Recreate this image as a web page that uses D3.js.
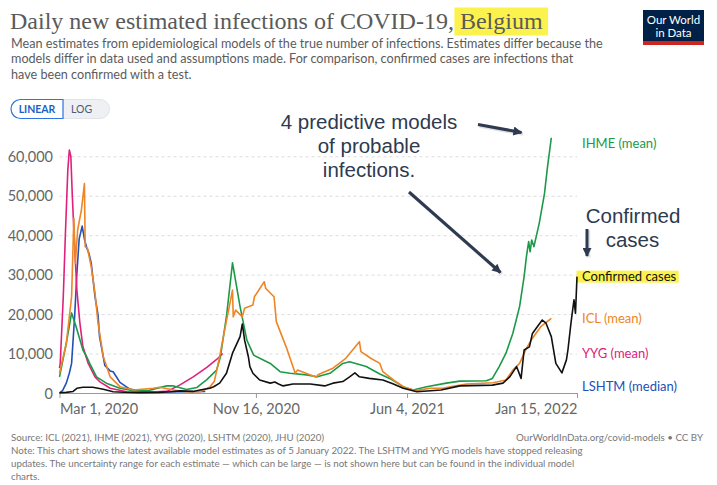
<!DOCTYPE html>
<html><head><meta charset="utf-8">
<script src="https://cdn.jsdelivr.net/npm/d3@7"></script>
<style>
html,body{margin:0;padding:0;background:#fff;}
svg{display:block;font-family:Lato,"Noto Sans",sans-serif;}
</style></head><body>
<svg id="chart" width="717" height="485"></svg>
<script>
// ---------- DATA ----------
const xTickDates = ["2020-03-01","2020-11-16","2021-06-04","2022-01-15"];
const xTickLabels = ["Mar 1, 2020","Nov 16, 2020","Jun 4, 2021","Jan 15, 2022"];
const yTicks = [0,10000,20000,30000,40000,50000,60000];

const seriesNames = ["LSHTM (median)","YYG (mean)","IHME (mean)","ICL (mean)","Confirmed cases"];
const seriesColors = ["#2350b8","#e0217c","#1c9a48","#ee8526","#111111"];

const lshtmDates = ["2020-03-01","2020-03-05","2020-03-10","2020-03-14","2020-03-17","2020-03-21","2020-03-24","2020-03-27","2020-03-31","2020-04-03","2020-04-06","2020-04-09","2020-04-12","2020-04-17","2020-04-21","2020-04-23","2020-04-30","2020-05-07","2020-05-11","2020-05-20","2020-06-02","2020-06-20","2020-07-15","2020-08-15","2020-09-10"];
const lshtmValues = [0,600,2500,5000,7500,19300,30300,39000,42300,39000,36800,35400,32900,24400,19800,14300,7000,5600,5400,2700,1000,400,250,300,400];

const yygDates = ["2020-03-01","2020-03-02","2020-03-06","2020-03-09","2020-03-12","2020-03-14","2020-03-16","2020-03-18","2020-03-21","2020-03-24","2020-03-28","2020-04-01","2020-04-08","2020-04-17","2020-04-23","2020-05-07","2020-05-29","2020-06-28","2020-07-21","2020-08-07","2020-08-25","2020-09-12","2020-09-25","2020-10-03"];
const yygValues = [6300,7600,24400,41300,56500,61600,60000,49800,37100,26100,17700,11700,7500,4100,2900,1200,330,250,400,2000,4100,6500,8500,10000];

const ihmeDates = ["2020-03-01","2020-03-10","2020-03-17","2020-03-23","2020-04-01","2020-04-06","2020-04-10","2020-04-19","2020-05-02","2020-05-20","2020-06-07","2020-06-28","2020-07-21","2020-07-30","2020-08-16","2020-08-30","2020-09-12","2020-09-25","2020-09-30","2020-10-08","2020-10-16","2020-10-26","2020-11-04","2020-11-13","2020-12-05","2020-12-18","2020-12-31","2021-01-22","2021-02-05","2021-02-22","2021-03-11","2021-03-20","2021-04-11","2021-04-29","2021-05-12","2021-05-30","2021-06-12","2021-06-30","2021-07-26","2021-08-13","2021-09-17","2021-09-25","2021-10-04","2021-10-13","2021-10-22","2021-10-31","2021-11-06","2021-11-09","2021-11-12","2021-11-14","2021-11-16","2021-11-19","2021-11-26","2021-12-03","2021-12-07","2021-12-12"];
const ihmeValues = [4100,12600,20300,16800,10900,9200,7500,4100,2500,1200,600,700,1800,1800,900,1400,3400,5800,9200,19400,33000,21900,13400,9600,7500,5400,5000,4600,4100,5000,7500,7900,6700,4800,3700,1600,760,1600,2500,3000,3100,3700,6700,10100,15100,21900,29500,34500,38400,35800,38800,37100,43000,50600,57400,64700];

const iclDates = ["2020-03-01","2020-03-10","2020-03-17","2020-03-20","2020-03-22","2020-03-25","2020-03-30","2020-04-03","2020-04-04","2020-04-07","2020-04-12","2020-04-17","2020-04-21","2020-04-28","2020-05-07","2020-05-20","2020-06-07","2020-07-03","2020-07-12","2020-07-30","2020-08-16","2020-09-03","2020-09-16","2020-09-22","2020-09-29","2020-10-03","2020-10-16","2020-10-17","2020-10-20","2020-10-29","2020-11-01","2020-11-12","2020-11-14","2020-11-27","2020-11-29","2020-12-10","2020-12-13","2020-12-26","2021-01-07","2021-01-10","2021-02-04","2021-02-06","2021-02-26","2021-03-15","2021-04-02","2021-04-04","2021-04-17","2021-04-29","2021-05-03","2021-05-17","2021-05-30","2021-06-12","2021-06-17","2021-07-04","2021-07-22","2021-07-31","2021-08-22","2021-09-26","2021-10-13","2021-10-22","2021-10-31","2021-11-09","2021-11-17","2021-11-28","2021-12-12"];
const iclValues = [5000,12600,24400,44300,32900,41300,46400,53100,37100,36700,32000,25300,17700,9200,4100,1600,760,1200,1450,760,330,330,1500,3000,9200,13400,26100,19300,21000,19300,21500,22300,24400,28200,26500,24400,18100,11700,5000,5800,4000,4600,6300,8800,13000,10500,8800,7500,5400,3300,1600,760,600,1200,1200,1600,2300,2600,3300,5800,7500,11300,13900,16800,18900];

const confirmedDates = ["2020-03-01","2020-03-10","2020-03-19","2020-03-24","2020-04-01","2020-04-14","2020-04-28","2020-05-11","2020-05-25","2020-06-15","2020-07-10","2020-07-25","2020-08-08","2020-08-25","2020-09-03","2020-09-16","2020-09-21","2020-09-29","2020-10-08","2020-10-16","2020-10-26","2020-10-29","2020-11-01","2020-11-06","2020-11-08","2020-11-12","2020-11-21","2020-12-05","2020-12-11","2020-12-16","2020-12-22","2021-01-04","2021-01-27","2021-02-15","2021-02-26","2021-03-11","2021-03-20","2021-03-27","2021-04-02","2021-04-15","2021-05-03","2021-05-17","2021-05-30","2021-06-17","2021-07-19","2021-08-13","2021-09-25","2021-10-09","2021-10-18","2021-10-27","2021-11-02","2021-11-06","2021-11-13","2021-11-17","2021-11-22","2021-11-30","2021-12-05","2021-12-12","2021-12-18","2021-12-26","2022-01-01","2022-01-03","2022-01-07","2022-01-11","2022-01-13","2022-01-15"];
const confirmedValues = [50,150,400,1200,1450,1450,940,330,200,100,150,300,550,400,760,1200,1600,2500,5000,10100,14300,17500,13400,9200,6700,5000,3300,2500,2800,2300,1800,2300,2300,1800,2500,2900,4100,5100,4100,3700,3300,2300,1200,330,760,1800,2000,2500,4100,6700,3700,10900,11700,15100,16400,18500,17700,14300,7500,5100,8400,10900,17700,23600,20200,29500];

// ---------- SETUP ----------
const svg = d3.select("#chart");
const parse = d3.timeParse("%Y-%m-%d");
const ink = "#2d3a50";

function fit(sel, target){
  const w = sel.node().getComputedTextLength();
  const fs = parseFloat(sel.attr("font-size"));
  const nfs = fs*target/w;
  sel.attr("font-size", nfs);
  return nfs;
}

// ---------- HEADER ----------
const title = svg.append("text").attr("x",10).attr("y",29)
  .attr("font-family","'Liberation Serif','DejaVu Serif',serif").attr("font-size",24).attr("fill","#5a5a5a");
title.append("tspan").text("Daily new estimated infections of COVID-19, ");
title.append("tspan").attr("class","hl").text("Belgium");
fit(title, 533);
const prefixLen = "Daily new estimated infections of COVID-19, ".length;
const bx = title.node().getStartPositionOfChar(prefixLen).x;
const bEnd = 10 + title.node().getComputedTextLength();
svg.insert("rect","text").attr("x",bx-5.5).attr("y",7.5).attr("width",bEnd-bx+11).attr("height",28).attr("fill","#fcf24d");

const subLines = ["Mean estimates from epidemiological models of the true number of infections. Estimates differ because the",
  "models differ in data used and assumptions made. For comparison, confirmed cases are infections that",
  "have been confirmed with a test."];
const subY = [47.5,63,78.5];
let subFs = 14;
subLines.forEach((t,i)=>{
  const s = svg.append("text").attr("x",11).attr("y",subY[i]).attr("font-size",subFs).attr("fill","#5b5b5b").text(t);
  if(i===0) subFs = fit(s,592);
  else s.attr("font-size",subFs);
});

// Logo
svg.append("rect").attr("x",643).attr("y",10).attr("width",61).attr("height",35).attr("fill","#002147");
svg.append("rect").attr("x",643).attr("y",41).attr("width",61).attr("height",4).attr("fill","#ce261e");
svg.append("text").attr("x",673.5).attr("y",23.5).attr("text-anchor","middle").attr("font-size",11.5).attr("fill","#fff").text("Our World");
svg.append("text").attr("x",673.5).attr("y",37).attr("text-anchor","middle").attr("font-size",11.5).attr("fill","#fff").text("in Data");

// LINEAR / LOG toggle
svg.append("path").attr("d","M63,99.5 H100 a9.5,9.5 0 0 1 0,19 H63 Z").attr("fill","#eef0f3").attr("stroke","#e0e3e8");
svg.append("path").attr("d","M63,99.5 H20.5 a9.5,9.5 0 0 0 0,19 H63 Z").attr("fill","#fff").attr("stroke","#2f74e0").attr("stroke-width",1.2);
svg.append("text").attr("x",37).attr("y",113).attr("text-anchor","middle").attr("font-size",10.5).attr("font-weight",700).attr("fill","#1f5fc4").text("LINEAR");
svg.append("text").attr("x",81.5).attr("y",113).attr("text-anchor","middle").attr("font-size",10.5).attr("fill","#4a5b75").text("LOG");

// ---------- CHART ----------
const x = d3.scaleTime().domain([parse(xTickDates[0]), parse(xTickDates[3])]).range([59.5,577]);
const y = d3.scaleLinear().domain([0,60000]).range([393,156.3]);

// gridlines
const grid = svg.append("g").attr("class","grid")
  .attr("transform","translate(59.5,0)")
  .call(d3.axisLeft(y).tickValues(yTicks.slice(1)).tickSize(-517.5).tickFormat(""));
grid.select(".domain").remove();
grid.selectAll("line").attr("stroke","#dcdcdc").attr("stroke-dasharray","3,3");

// y labels
const yl = svg.append("g").attr("transform","translate(53,0)")
  .call(d3.axisLeft(y).tickValues(yTicks).tickSize(0).tickPadding(0).tickFormat(d3.format(",")));
yl.select(".domain").remove();
yl.selectAll("text").attr("font-family","Lato,'Noto Sans',sans-serif").attr("font-size",14.5).attr("fill","#666").attr("dy","0.36em");

// x axis
const xa = svg.append("g").attr("transform","translate(0,393)")
  .call(d3.axisBottom(x).tickValues(xTickDates.map(parse)).tickSize(5).tickPadding(6)
    .tickFormat((d,i)=>xTickLabels[i]));
xa.select(".domain").attr("stroke","#999").attr("d","M59.5,0.5H577");
xa.selectAll("line").attr("stroke","#999");
xa.selectAll("text").attr("font-family","Lato,'Noto Sans',sans-serif").attr("font-size",14.5).attr("fill","#666").attr("dy","0.71em")
  .attr("text-anchor",(d,i)=> i===0 ? "start" : (i===xTickDates.length-1 ? "end" : "middle"));

// lines
const allDates = [lshtmDates,yygDates,ihmeDates,iclDates,confirmedDates];
const allValues = [lshtmValues,yygValues,ihmeValues,iclValues,confirmedValues];
const line = d3.line().x(d=>x(d[0])).y(d=>y(d[1]));
const series = seriesNames.map((n,i)=>({name:n,color:seriesColors[i],
  data: allDates[i].map((d,j)=>[parse(d),allValues[i][j]])}));
svg.append("g").selectAll("path").data(series).join("path")
  .attr("d",s=>line(s.data)).attr("fill","none").attr("stroke",s=>s.color)
  .attr("stroke-width",1.6).attr("stroke-linejoin","round");

// legend labels at line ends
const labs = series.map(s=>({s, y: y(s.data[s.data.length-1][1])}));
labs.sort((a,b)=>b.y-a.y);
let lim = 386.7;
labs.forEach(l=>{ l.y = Math.min(l.y, lim); lim = l.y - 16; });
labs.forEach(l=>{ if(l.y<143.3) l.y=143.3; });
labs.forEach(l=>{
  const conf = l.s.name==="Confirmed cases";
  const t = svg.append("text").attr("x",582).attr("y",l.y).attr("dy","0.35em")
    .attr("font-size",13).attr("fill",conf?"#111":l.s.color).text(l.s.name);
  if(conf){
    const w = t.node().getComputedTextLength();
    svg.insert("rect","text").attr("x",576.5).attr("y",l.y-6).attr("width",w+8).attr("height",12).attr("fill","#fcf24d");
  }
});

// ---------- ANNOTATIONS ----------
const defs = svg.append("defs");
defs.append("marker").attr("id","ah").attr("viewBox","0 0 10 10").attr("refX",9).attr("refY",5)
  .attr("markerWidth",11).attr("markerHeight",9).attr("markerUnits","userSpaceOnUse").attr("orient","auto")
  .append("path").attr("d","M0,0 L10,5 L0,10 Z").attr("fill",ink);
const arrows = [[478,124.5,521.5,132.5],[409,192,500.5,272.5],[587,229,587,256]];
arrows.forEach(a=>{
  svg.append("line").attr("x1",a[0]+1.5).attr("y1",a[1]+1.5).attr("x2",a[2]+1.5).attr("y2",a[3]+1.5)
    .attr("stroke","#888").attr("stroke-opacity",0.25).attr("stroke-width",3.5);
  svg.append("line").attr("x1",a[0]).attr("y1",a[1]).attr("x2",a[2]).attr("y2",a[3])
    .attr("stroke",ink).attr("stroke-width",3).attr("marker-end","url(#ah)");
});
const annF = "'Liberation Sans',Arial,sans-serif";
const ann1 = ["4 predictive models","of probable","infections."];
const annY = [129,153,176.5];
ann1.forEach((t,i)=>{
  svg.append("text").attr("x",369).attr("y",annY[i]).attr("text-anchor","middle")
    .attr("font-family",annF).attr("font-size",20.5).attr("fill",ink).text(t);
});
svg.append("text").attr("x",633).attr("y",223).attr("text-anchor","middle").attr("font-family",annF).attr("font-size",20.5).attr("fill",ink).text("Confirmed");
svg.append("text").attr("x",632.5).attr("y",246.5).attr("text-anchor","middle").attr("font-family",annF).attr("font-size",20.5).attr("fill",ink).text("cases");

// ---------- FOOTER ----------
const footLines = ["Source: ICL (2021), IHME (2021), YYG (2020), LSHTM (2020), JHU (2020)",
  "Note: This chart shows the latest available model estimates as of 5 January 2022. The LSHTM and YYG models have stopped releasing",
  "updates. The uncertainty range for each estimate — which can be large — is not shown here but can be found in the individual model",
  "charts."];
const footY = [441,454,467,480];
const probe = svg.append("text").attr("x",11).attr("y",footY[1]).attr("font-size",12).attr("fill","#777").text(footLines[1]);
const ffs = fit(probe,572);
probe.remove();
footLines.forEach((t,i)=>{
  svg.append("text").attr("x",11).attr("y",footY[i]).attr("font-size",ffs).attr("fill","#777").text(t);
});
svg.append("text").attr("x",703).attr("y",footY[0]).attr("text-anchor","end").attr("font-size",ffs).attr("fill","#777")
  .text("OurWorldInData.org/covid-models • CC BY");
</script>
</body></html>
